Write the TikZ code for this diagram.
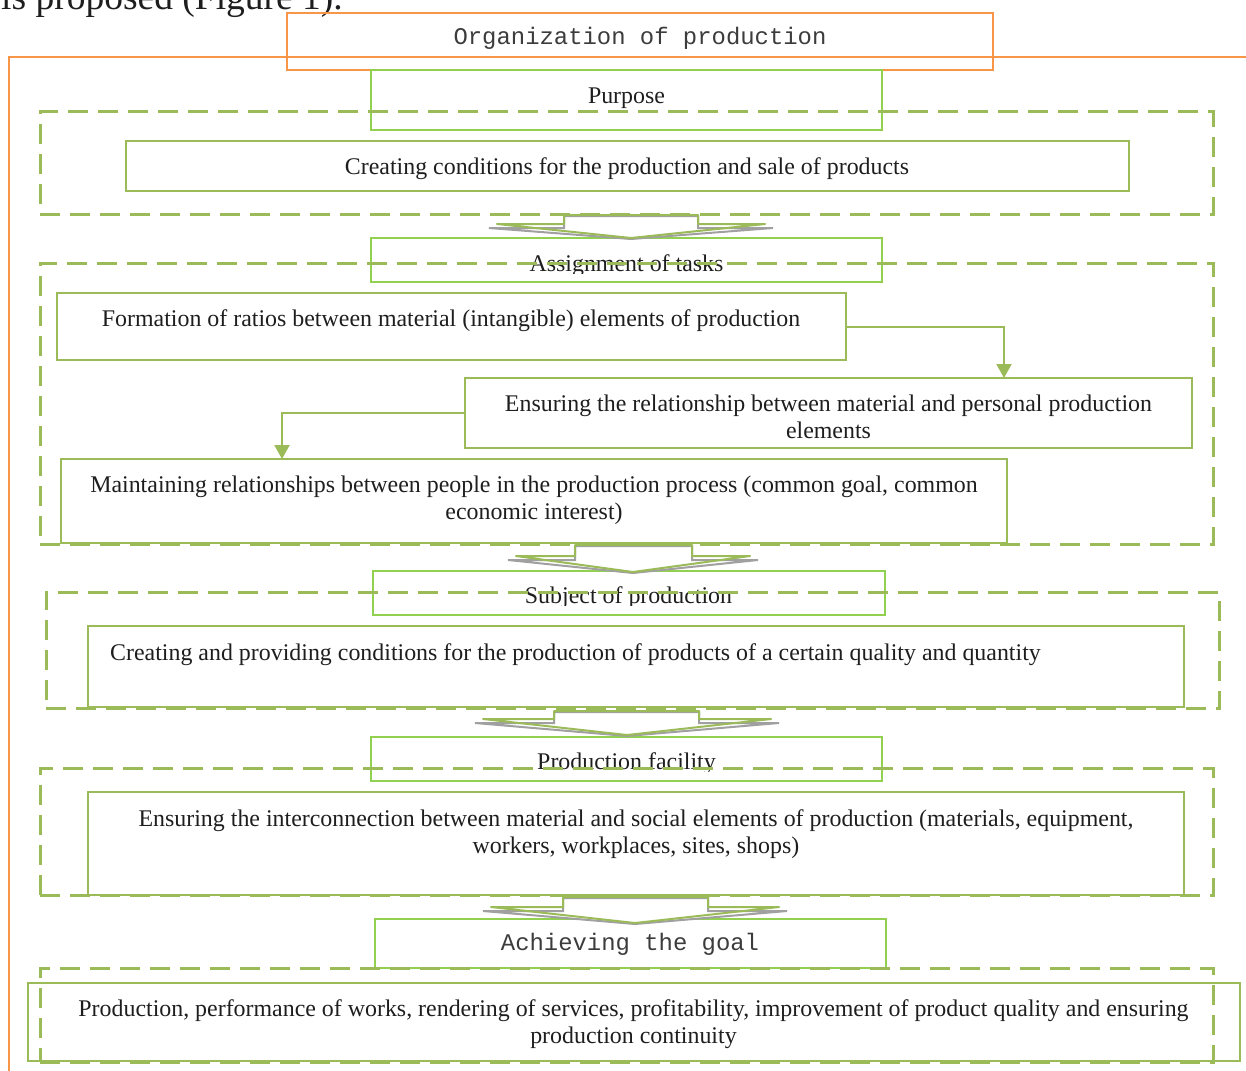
\documentclass[tikz,border=0pt]{standalone}
\usepackage{fontspec}
\setmainfont{Liberation Serif}
\setmonofont{Liberation Mono}
\usetikzlibrary{arrows.meta}
\definecolor{orng}{HTML}{F79646}
\definecolor{olivegr}{HTML}{9BBB59}
\definecolor{brightgr}{HTML}{92D050}
\definecolor{txtc}{HTML}{1E1E1E}
\definecolor{monoc}{HTML}{3C3C3C}
\definecolor{shadegr}{HTML}{A0A0A0}
% #1 stem left, #2 stem right, #3 top, #4 wing left, #5 wing right, #6 wing y, #7 tip x, #8 tip y
\newcommand\blkarrow[8]{%
  \draw[shadowarr] (#1,{#3+1}) -- (#2,{#3+1}) -- (#2,{#6+4}) -- ({#5+8},{#6+4}) -- (#7,{#8+1}) -- ({#4-8},{#6+4}) -- (#1,{#6+4}) -- cycle;
  \draw[greenarr] (#1,#3) -- (#2,#3) -- (#2,#6) -- (#5,#6) -- (#7,#8) -- (#4,#6) -- (#1,#6) -- cycle;}
\begin{document}
\begin{tikzpicture}[x=1pt,y=-1pt,
  ebox/.style={draw=olivegr,line width=2.4pt,inner sep=0pt,outer sep=0pt},
  hbox/.style={draw=brightgr,line width=2.4pt,inner sep=0pt,outer sep=0pt},
  obox/.style={draw=orng,line width=2pt,inner sep=0pt,outer sep=0pt},
  grp/.style={draw=olivegr,line width=3pt,dash pattern=on 20pt off 10pt,inner sep=0pt,outer sep=0pt},
  lbl/.style={font=\fontsize{23.9}{27}\selectfont,text=txtc,inner sep=0pt,anchor=base},
  lbltwo/.style={lbl,text width=1180pt,align=flush center},
  mlbl/.style={font=\ttfamily\fontsize{23.9}{27}\selectfont,text=monoc,inner sep=0pt,anchor=base},
  conn/.style={draw=olivegr,line width=2pt,-{Triangle[width=15pt,length=14pt]}},
  shadowarr/.style={draw=shadegr,line width=2pt,fill=white,line join=miter},
  greenarr/.style={draw=olivegr,line width=2pt,line join=round}]
\useasboundingbox (0,0) rectangle (1246,1070);
\clip (0,0) rectangle (1246,1070);

% cropped body text at the top
\node[font=\fontsize{37.5}{42}\selectfont,text=txtc,inner sep=0pt,anchor=base west] (bodytxt) at (1,9.5) {is proposed (Figure 1).};

% orange frame line
\coordinate (fbot) at (9,1072);
\coordinate (fcorner) at (9,57);
\coordinate (fright) at (1248,57);
\draw[orng,line width=2pt] (fbot) -- (fcorner) -- (fright);

% boxes
\node[obox,minimum width=706pt,minimum height=57pt] (org) at (640,41.5) {};
\node[hbox,minimum width=511pt,minimum height=60pt] (purpose) at (626.5,100) {};
\node[ebox,minimum width=1003pt,minimum height=50pt] (cond) at (627.5,166) {};
\node[hbox,minimum width=511pt,minimum height=44pt] (assign) at (626.5,260) {};
\node[ebox,minimum width=789pt,minimum height=67pt] (form) at (451.5,326.5) {};
\node[ebox,minimum width=727pt,minimum height=70pt] (ensrel) at (828.5,413) {};
\node[ebox,minimum width=946pt,minimum height=84pt] (maint) at (534,501) {};
\node[hbox,minimum width=512pt,minimum height=44pt] (subj) at (629,593) {};
\node[ebox,minimum width=1096pt,minimum height=81pt] (prov) at (636,666.5) {};
\node[hbox,minimum width=511pt,minimum height=44pt] (facil) at (626.5,759) {};
\node[ebox,minimum width=1096pt,minimum height=103pt] (inter) at (636,843.5) {};
\node[hbox,minimum width=511pt,minimum height=49pt] (achv) at (630.5,943.5) {};
\node[ebox,minimum width=1212pt,minimum height=78pt] (perf) at (634,1022) {};

% texts
\node[mlbl] (torg) at (640,44.5) {Organization of production};
\node[lbl] (tpurpose) at (626.5,104) {Purpose};
\node[lbl] (tcond) at (627,174) {Creating conditions for the production and sale of products};
\begin{scope}
  \clip (300,200) rectangle (950,273);
  \node[lbl] (tassign) at (626.5,271) {Assignment of tasks};
\end{scope}
\node[lbl] (tform) at (451,326) {Formation of ratios between material (intangible) elements of production};
\node[lbltwo] (tensrel) at (828.5,411) {Ensuring the relationship between material and personal production\\elements};
\node[lbltwo] (tmaint) at (534,492) {Maintaining relationships between people in the production process (common goal, common\\economic interest)};
\begin{scope}
  \clip (300,560) rectangle (950,605);
  \node[lbl] (tsubj) at (628.5,603) {Subject of production};
\end{scope}
\node[lbl,anchor=base west] (tprov) at (110,660) {Creating and providing conditions for the production of products of a certain quality and quantity};
\begin{scope}
  \clip (300,720) rectangle (950,771);
  \node[lbl] (tfacil) at (626.5,769) {Production facility};
\end{scope}
\node[lbltwo] (tinter) at (636,826) {Ensuring the interconnection between material and social elements of production (materials, equipment,\\workers, workplaces, sites, shops)};
\node[mlbl] (tachv) at (630,950) {Achieving the goal};
\node[lbltwo] (tperf) at (633.5,1016) {Production, performance of works, rendering of services, profitability, improvement of product quality and ensuring\\production continuity};

% dashed groups
\node[grp,minimum width=1173pt,minimum height=102pt] (g1) at (626.5,163) {};
\node[grp,minimum width=1173pt,minimum height=281pt] (g2) at (626.5,403.5) {};
\node[grp,minimum width=1173pt,minimum height=116pt] (g3) at (632.5,650) {};
\node[grp,minimum width=1173pt,minimum height=127pt] (g4) at (626.5,831.5) {};
\node[grp,minimum width=1173pt,minimum height=94pt] (g5) at (626.5,1015) {};

% block arrows between sections
\blkarrow{564}{698}{215}{497}{765}{224}{631}{238}
\blkarrow{575}{692}{545}{516}{750}{556}{633}{572}
\blkarrow{554}{699}{711}{483}{771}{719}{627}{735}
\blkarrow{563}{708}{897}{491}{779}{907}{635}{923}

% connectors
\coordinate (cx1) at (1004,0);
\coordinate (cx2) at (282,0);
\draw[conn] (form.east) -| (cx1 |- ensrel.north);
\draw[conn] (ensrel.west) -| (cx2 |- maint.north);
\end{tikzpicture}
\end{document}
